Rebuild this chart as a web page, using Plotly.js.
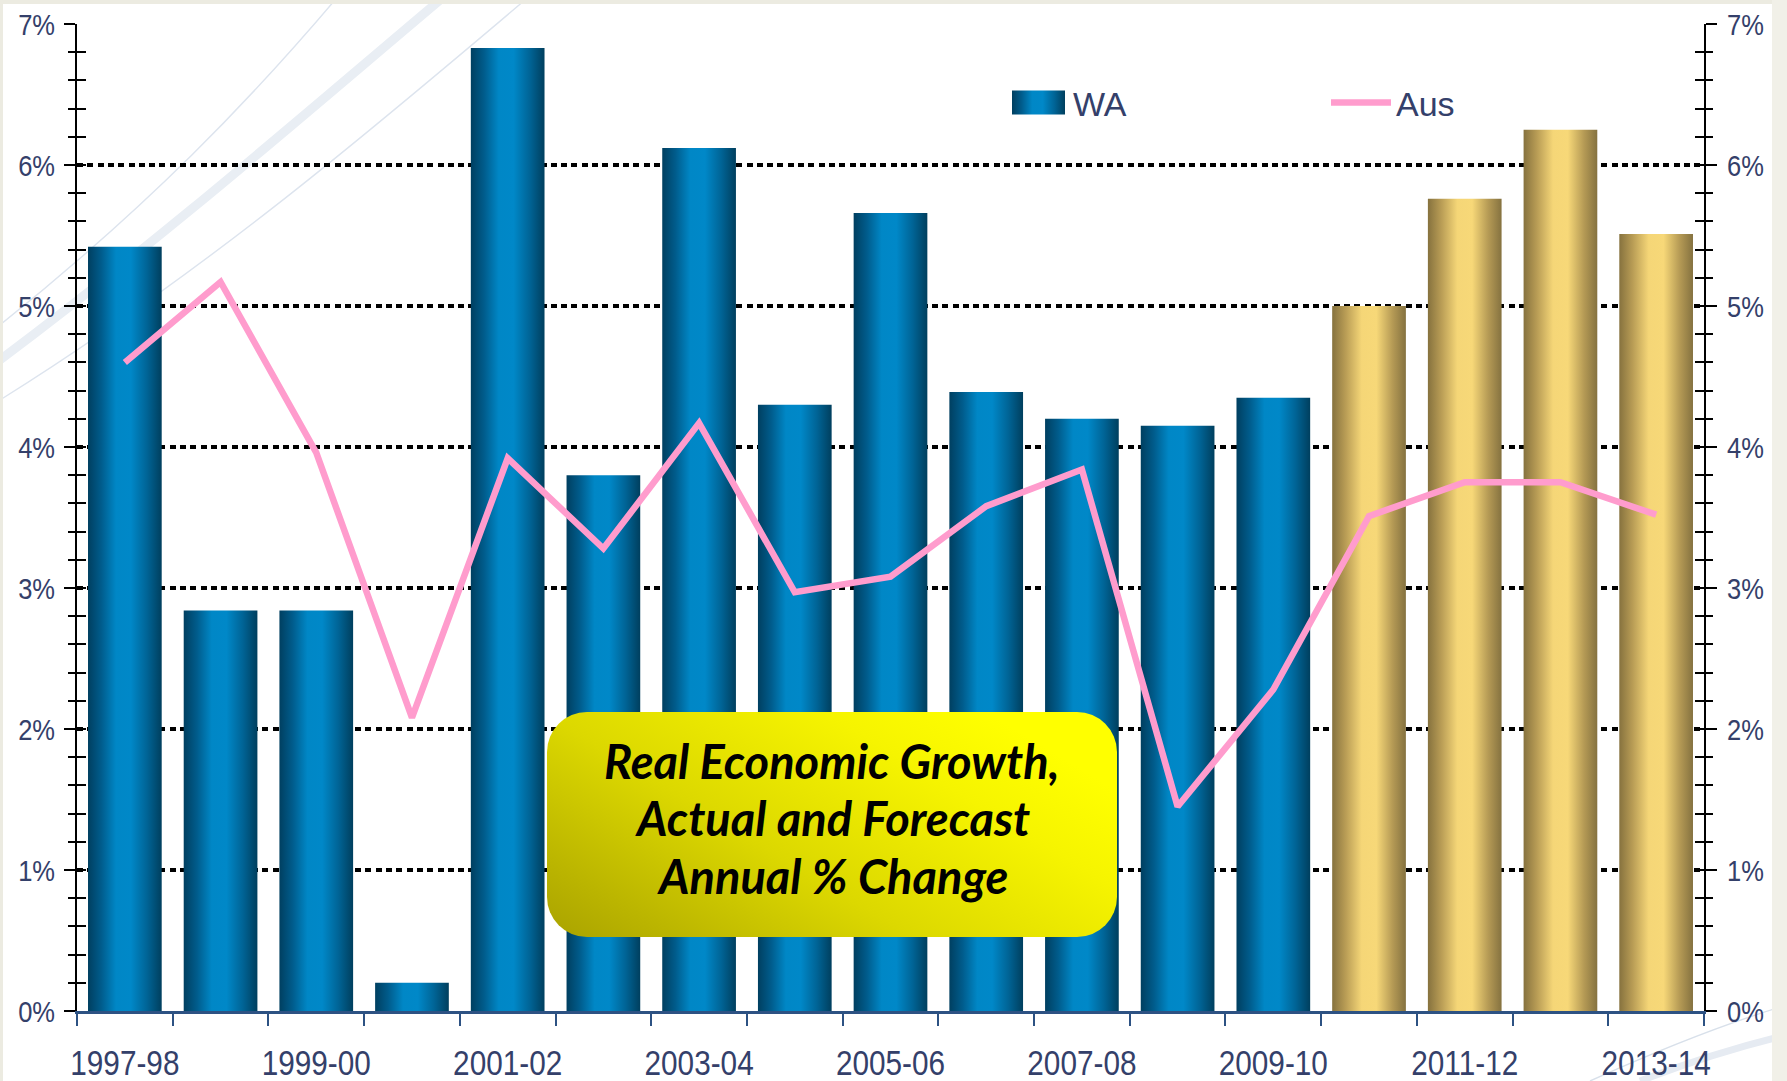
<!DOCTYPE html>
<html>
<head>
<meta charset="utf-8">
<script src="https://cdn.plot.ly/plotly-3.0.1.min.js"></script>
<style>
  html, body { margin: 0; padding: 0; background: #ffffff; }
  #chart { width: 1787px; height: 1081px; }
</style>
</head>
<body>
<div id="chart"></div>
<script>
// ---------------- DATA ----------------
const categories = ["1997-98","1998-99","1999-00","2000-01","2001-02","2002-03","2003-04","2004-05","2005-06","2006-07","2007-08","2008-09","2009-10","2010-11","2011-12","2012-13","2013-14"];
const waGrowth  = [5.42, 2.84, 2.84, 0.20, 6.83, 3.80, 6.12, 4.30, 5.66, 4.39, 4.20, 4.15, 4.35, 5.00, 5.76, 6.25, 5.51];
const ausGrowth = [4.60, 5.17, 3.96, 2.08, 3.92, 3.28, 4.17, 2.97, 3.08, 3.58, 3.84, 1.45, 2.28, 3.51, 3.75, 3.75, 3.52];
const isForecast = [false,false,false,false,false,false,false,false,false,false,false,false,false,true,true,true,true];
const yTickValues = [0,1,2,3,4,5,6,7];
const seriesNames = ["WA", "Aus"];
const boxTitleLines = ["Real Economic Growth,", "Actual and Forecast", "Annual % Change"];

// ---------------- LAYOUT CONSTANTS ----------------
const W = 1787, H = 1081;
const M = { l: 77, r: 83, t: 24, b: 70 };
const PW = W - M.l - M.r, PH = H - M.t - M.b;
const px2x = p => (p - M.l) / PW;          // canvas px -> paper x
const px2y = p => (H - M.b - p) / PH;      // canvas px -> paper y

const xIdx = categories.map((c, i) => i);
const labelIdx = xIdx.filter(i => i % 2 === 0);
const boundaries = [...xIdx.map(i => i - 0.5), xIdx.length - 0.5];

const fontFamily = "'Liberation Sans', Arial, sans-serif";
const labelColor = "#34406a";
const xTickFont = { family: fontFamily, size: 35, color: labelColor };
const yTickFont = { family: fontFamily, size: 30, color: labelColor };
const NARROW = 0.85;

const traces = [
  {
    type: "bar",
    name: seriesNames[0],
    x: xIdx,
    y: waGrowth,
    text: categories,
    hoverinfo: "text+y",
    textposition: "none",
    width: 0.77,
    marker: { color: isForecast.map(f => f ? "#e0c268" : "#0088c8"), line: { width: 0 } },
    xaxis: "x", yaxis: "y"
  },
  {
    type: "scatter",
    mode: "lines",
    name: seriesNames[1],
    x: xIdx,
    y: ausGrowth,
    line: { color: "#ff9ccd", width: 6.5 },
    xaxis: "x", yaxis: "y2"
  }
];

const bgSvg = `<svg xmlns="http://www.w3.org/2000/svg" width="${W}" height="${H}" viewBox="0 0 ${W} ${H}">
<rect x="0" y="0" width="${W}" height="${H}" fill="#ffffff"/>
<path d="M0,325 C150,205 250,100 335,0" stroke="#dde4ee" stroke-width="1.4" fill="none"/>
<path d="M0,360 C170,232 300,118 440,0" stroke="#e9eef4" stroke-width="9" fill="none"/>
<path d="M0,400 C200,275 360,140 525,0" stroke="#dde4ee" stroke-width="1.4" fill="none"/>
<path d="M1590,1081 C1670,1045 1730,1022 1787,1005" stroke="#d8e0ea" stroke-width="1.4" fill="none"/>
<path d="M1640,1081 C1700,1058 1750,1044 1787,1035" stroke="#e6ebf2" stroke-width="7" fill="none"/>
<rect x="0" y="0" width="${W}" height="4" fill="#ecebe1"/>
<rect x="0" y="0" width="3" height="${H}" fill="#ecebe1"/>
<rect x="${W-15}" y="0" width="15" height="${H}" fill="#f1f0e8"/>
</svg>`;

const boxSvg = `<svg xmlns="http://www.w3.org/2000/svg" width="570" height="225" viewBox="0 0 570 225" preserveAspectRatio="none">
<defs><linearGradient id="yg" x1="0" y1="1" x2="1" y2="0.35">
<stop offset="0" stop-color="#a9a200"/><stop offset="0.45" stop-color="#dcd800"/><stop offset="0.8" stop-color="#f6f400"/><stop offset="1" stop-color="#ffff00"/>
</linearGradient></defs>
<rect x="0" y="0" width="570" height="225" rx="40" ry="40" fill="url(#yg)"/>
</svg>`;

const svgUri = s => "data:image/svg+xml;charset=utf-8," + encodeURIComponent(s);

const box = { x0: 547, x1: 1117, y0: 712, y1: 937 };
const boxLineY = [761, 818, 876];

const layout = {
  width: W, height: H,
  margin: M,
  paper_bgcolor: "#ffffff",
  plot_bgcolor: "rgba(0,0,0,0)",
  showlegend: true,
  barmode: "overlay",
  legend: {
    orientation: "h",
    x: px2x(1003), xanchor: "left",
    y: px2y(103), yanchor: "middle",
    bgcolor: "rgba(0,0,0,0)",
    font: { family: fontFamily, size: 34, color: labelColor },
    itemwidth: 60,
    entrywidth: 248,
    entrywidthmode: "pixels",
    traceorder: "normal"
  },
  xaxis: {
    type: "linear",
    range: [-0.5, categories.length - 0.5],
    tickmode: "array",
    tickvals: labelIdx,
    ticktext: labelIdx.map(i => categories[i]),
    ticks: "",
    ticklabelstandoff: 19,
    tickfont: xTickFont,
    showgrid: false,
    zeroline: false,
    showline: true,
    linecolor: "#2d5283",
    linewidth: 2.5,
    minor: { tickmode: "array", tickvals: boundaries, ticks: "outside", ticklen: 12, tickwidth: 2, tickcolor: "#2d5283", showgrid: false },
    fixedrange: true
  },
  yaxis: {
    range: [0, 7],
    tickmode: "array",
    tickvals: yTickValues,
    ticktext: yTickValues.map(v => v + "%"),
    ticks: "outside", ticklen: 11, tickwidth: 2, tickcolor: "#000000",
    ticklabelstandoff: 3,
    minor: { dtick: 0.2, ticks: "outside", ticklen: 7, tickwidth: 2, tickcolor: "#000000", showgrid: false },
    showline: true, linecolor: "#000000", linewidth: 2,
    mirror: "allticks",
    showgrid: true, gridcolor: "#000000", gridwidth: 4, griddash: "6px,4.3px",
    zeroline: false,
    tickfont: yTickFont,
    fixedrange: true
  },
  yaxis2: {
    overlaying: "y", side: "right",
    range: [0, 7],
    tickmode: "array",
    tickvals: yTickValues,
    ticktext: yTickValues.map(v => v + "%"),
    ticks: "inside", ticklen: 9, tickwidth: 2, tickcolor: "#000000",
    ticklabelstandoff: 15,
    minor: { dtick: 0.2, ticks: "inside", ticklen: 9, tickwidth: 2, tickcolor: "#000000", showgrid: false },
    showline: true, linecolor: "#000000", linewidth: 2,
    mirror: "allticks",
    showgrid: false, zeroline: false,
    tickfont: yTickFont,
    fixedrange: true
  },
  images: [
    { source: svgUri(bgSvg), xref: "paper", yref: "paper", x: px2x(0), y: px2y(0), sizex: W / PW, sizey: H / PH, xanchor: "left", yanchor: "top", sizing: "stretch", layer: "below" },
    { source: svgUri(boxSvg), xref: "paper", yref: "paper", x: px2x(box.x0), y: px2y(box.y0), sizex: (box.x1 - box.x0) / PW, sizey: (box.y1 - box.y0) / PH, xanchor: "left", yanchor: "top", sizing: "stretch", layer: "above" }
  ],
  annotations: boxTitleLines.map((s, k) => ({
    xref: "paper", yref: "paper",
    x: px2x((box.x0 + box.x1) / 2), y: px2y(boxLineY[k]),
    xanchor: "center", yanchor: "middle",
    showarrow: false,
    text: "<b><i>" + s + "</i></b>",
    font: { family: "Lato, 'Open Sans', 'Noto Sans', sans-serif", size: 47, color: "#000000" }
  }))
};

Plotly.newPlot("chart", traces, layout, { displayModeBar: false, staticPlot: true }).then(gd => {
  const NS = "http://www.w3.org/2000/svg";
  const svg = gd.querySelector("svg.main-svg");
  let defs = svg.querySelector("defs");
  if (!defs) { defs = document.createElementNS(NS, "defs"); svg.insertBefore(defs, svg.firstChild); }
  function addGrad(id, stops) {
    const g = document.createElementNS(NS, "linearGradient");
    g.setAttribute("id", id);
    g.setAttribute("x1", "0"); g.setAttribute("y1", "0"); g.setAttribute("x2", "1"); g.setAttribute("y2", "0");
    stops.forEach(([o, c]) => {
      const s = document.createElementNS(NS, "stop");
      s.setAttribute("offset", o); s.setAttribute("stop-color", c);
      g.appendChild(s);
    });
    defs.appendChild(g);
  }
  addGrad("waBlue", [[0, "#003f60"], [0.18, "#005c8c"], [0.38, "#0087c6"], [0.58, "#0088c8"], [0.8, "#006496"], [1, "#003f5e"]]);
  addGrad("waGold", [[0, "#86723e"], [0.18, "#b89c55"], [0.4, "#f5d677"], [0.6, "#f7d878"], [0.82, "#b59a55"], [1, "#857240"]]);

  gd.querySelectorAll(".barlayer .trace.bars .point").forEach((pt, k) => {
    const d = pt.__data__;
    const i = d && typeof d.i === "number" ? d.i : k;
    const path = pt.querySelector("path");
    if (path) path.style.fill = isForecast[i] ? "url(#waGold)" : "url(#waBlue)";
  });

  // narrow (Arial Narrow-like) tick labels
  gd.querySelectorAll(".xtick text, .ytick text, .y2tick text").forEach(t => {
    const w = t.getComputedTextLength();
    if (w > 0) {
      t.setAttribute("textLength", (w * NARROW).toFixed(2));
      t.setAttribute("lengthAdjust", "spacingAndGlyphs");
    }
  });

  // legend swatches
  const legTraces = gd.querySelectorAll(".legend .traces");
  legTraces.forEach((tr, k) => {
    const txt = tr.querySelector("text.legendtext");
    const tx = parseFloat(txt.getAttribute("x")) || 40;
    const lp = tr.querySelector(".legendpoints");
    if (!lp) return;
    lp.querySelectorAll("g").forEach(g => g.removeAttribute("transform"));
    lp.removeAttribute("transform");
    const p = lp.querySelector("path");
    if (!p) return;
    p.removeAttribute("transform");
    if (k === 0) {
      p.setAttribute("d", `M${tx - 61},-12h53v24h-53Z`);
      p.style.fill = "url(#waBlue)";
      p.style.stroke = "none";
    } else {
      p.setAttribute("d", `M${tx - 62},0h52`);
      p.style.strokeWidth = "8px";
      p.style.strokeLinecap = "round";
    }
  });
});
</script>
</body>
</html>
